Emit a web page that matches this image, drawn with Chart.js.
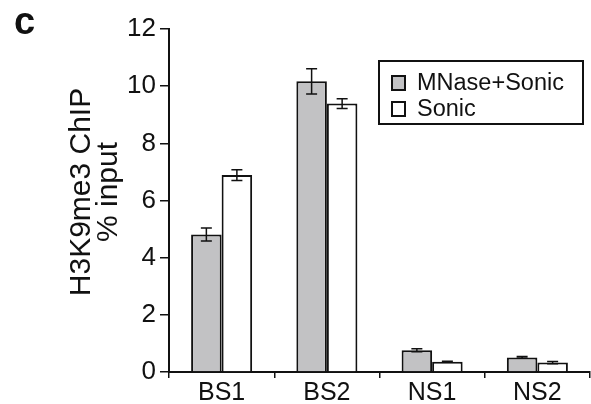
<!DOCTYPE html>
<html>
<head>
<meta charset="utf-8">
<script src="https://cdn.jsdelivr.net/npm/chart.js@4"></script>
<style>
  html, body { margin: 0; padding: 0; background: #fff; }
  #wrap { position: relative; width: 591px; height: 404px; }
  #panel { position: absolute; left: 14px; top: 0px; font: bold 38px "Liberation Sans", Arial, sans-serif; color: #111; }
</style>
</head>
<body>
<div id="wrap">
  <canvas id="c" width="591" height="404"></canvas>
  <div id="panel">c</div>
</div>
<script>
const categories = ['BS1', 'BS2', 'NS1', 'NS2'];
const seriesNames = ['MNase+Sonic', 'Sonic'];
const mnaseSonic = [4.81, 10.17, 0.76, 0.51];
const mnaseSonicErr = [0.23, 0.44, 0.05, 0.03];
const sonic = [6.89, 9.39, 0.36, 0.33];
const sonicErr = [0.19, 0.17, 0.02, 0.04];
const yMin = 0, yMax = 12, yStep = 2;
const yTitle = ['H3K9me3 ChIP', '% input'];

const FONT = '"Liberation Sans", Arial, sans-serif';

const errorBars = {
  id: 'errorBars',
  afterDatasetsDraw(chart) {
    const ctx = chart.ctx;
    const y = chart.scales.y;
    ctx.save();
    ctx.strokeStyle = '#111';
    ctx.lineWidth = 1.5;
    chart.data.datasets.forEach((ds, i) => {
      const meta = chart.getDatasetMeta(i);
      meta.data.forEach((bar, j) => {
        const v = ds.data[j], e = ds.errors[j];
        const yt = y.getPixelForValue(v + e), yb = y.getPixelForValue(v - e);
        const x = bar.x, hw = 5.5;
        ctx.beginPath();
        ctx.moveTo(x, yt); ctx.lineTo(x, yb);
        ctx.moveTo(x - hw, yt); ctx.lineTo(x + hw, yt);
        ctx.moveTo(x - hw, yb); ctx.lineTo(x + hw, yb);
        ctx.stroke();
      });
    });
    ctx.restore();
  }
};

const yTitlePlugin = {
  id: 'yTitlePlugin',
  afterDraw(chart) {
    const ctx = chart.ctx;
    ctx.save();
    ctx.translate(0, 192);
    ctx.rotate(-Math.PI / 2);
    ctx.font = '30px ' + FONT;
    ctx.fillStyle = '#111';
    ctx.textAlign = 'center';
    ctx.textBaseline = 'alphabetic';
    ctx.fillText(yTitle[0], 0, 90);
    ctx.fillText(yTitle[1], 0, 117);
    ctx.restore();
  }
};

const boxLegend = {
  id: 'boxLegend',
  afterDraw(chart) {
    const ctx = chart.ctx;
    ctx.save();
    ctx.strokeStyle = '#111';
    ctx.lineWidth = 2;
    ctx.strokeRect(379, 61, 204, 63);
    ctx.font = '23.5px ' + FONT;
    ctx.textBaseline = 'middle';
    chart.data.datasets.forEach((ds, i) => {
      const cy = 83 + i * 26;
      ctx.fillStyle = ds.backgroundColor;
      ctx.fillRect(392, cy - 7, 13, 14);
      ctx.lineWidth = 2;
      ctx.strokeRect(392, cy - 7, 13, 14);
      ctx.fillStyle = '#111';
      ctx.fillText(ds.label, 417, cy + 1);
    });
    ctx.restore();
  }
};

new Chart(document.getElementById('c'), {
  type: 'bar',
  data: {
    labels: categories,
    datasets: [
      { label: seriesNames[0], data: mnaseSonic, errors: mnaseSonicErr, backgroundColor: '#c2c2c4', borderColor: '#111', borderWidth: 2 },
      { label: seriesNames[1], data: sonic, errors: sonicErr, backgroundColor: '#ffffff', borderColor: '#111', borderWidth: 2 }
    ]
  },
  options: {
    responsive: false,
    animation: false,
    events: [],
    layout: { padding: { top: 29, right: 1, left: 0, bottom: 0 } },
    datasets: { bar: { categoryPercentage: 0.58, barPercentage: 1.0 } },
    plugins: { legend: { display: false }, tooltip: { enabled: false } },
    scales: {
      x: {
        offset: true,
        grid: { offset: true, drawOnChartArea: false, drawTicks: true, tickLength: 6, color: '#111', lineWidth: 1.5 },
        border: { display: true, color: '#111', width: 2 },
        ticks: { color: '#111', font: { family: FONT, size: 25 }, padding: 0 },
        afterFit(s) { s.height = 32; }
      },
      y: {
        min: yMin, max: yMax,
        grid: { drawOnChartArea: false, drawTicks: true, tickLength: 9, color: '#111', lineWidth: 1.5 },
        border: { display: true, color: '#111', width: 2 },
        ticks: { stepSize: yStep, color: '#111', font: { family: FONT, size: 26 }, padding: 4 },
        title: { display: false, text: yTitle },
        afterFit(s) { s.width = 169; }
      }
    }
  },
  plugins: [errorBars, yTitlePlugin, boxLegend]
});
</script>
</body>
</html>
